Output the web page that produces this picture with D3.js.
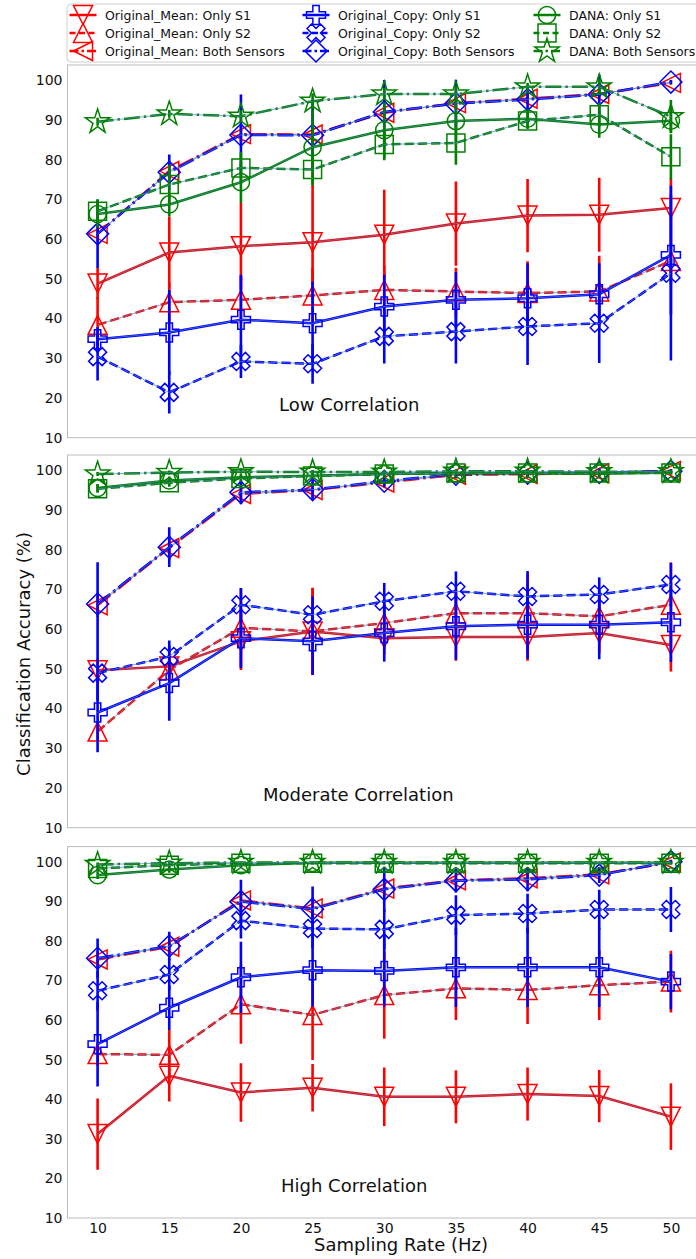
<!DOCTYPE html>
<html>
<head>
<meta charset="utf-8">
<script src="https://cdn.jsdelivr.net/npm/d3@7"></script>
<style>
  body { margin: 0; background: #fff; }
  svg { display: block; }
  text { font-family: "DejaVu Sans", sans-serif; fill: #111; }
</style>
</head>
<body>
<svg id="chart" width="696" height="1259"></svg>
<script>
// ---- data -----------------------------------------------------------------
const rates = [10, 15, 20, 25, 30, 35, 40, 45, 50];
const yTicks = [10, 20, 30, 40, 50, 60, 70, 80, 90, 100];
const seriesLabels = [
  "Original_Mean: Only S1", "Original_Mean: Only S2", "Original_Mean: Both Sensors",
  "Original_Copy: Only S1", "Original_Copy: Only S2", "Original_Copy: Both Sensors",
  "DANA: Only S1", "DANA: Only S2", "DANA: Both Sensors"
];
const panelTitles = ["Low Correlation", "Moderate Correlation", "High Correlation"];

// mean accuracy (%) per series, rows follow seriesLabels
const lowAcc = [
  [48.8, 56.6, 58.2, 59.2, 61.1, 63.9, 65.9, 66.1, 67.8],
  [38.4, 44.1, 44.7, 45.8, 47.2, 46.8, 46.4, 46.8, 54.5],
  [61.3, 77.1, 86.4, 86.3, 91.8, 94.2, 95.3, 96.5, 99.3],
  [34.8, 36.5, 39.7, 38.8, 43.0, 44.7, 45.1, 46.1, 56.0],
  [30.4, 21.4, 29.2, 28.6, 35.5, 36.7, 38.0, 38.8, 51.4],
  [61.3, 76.8, 86.2, 86.1, 92.0, 94.1, 95.1, 96.4, 99.5],
  [66.3, 68.7, 74.3, 83.1, 87.4, 89.7, 90.3, 88.8, 89.8],
  [67.0, 73.7, 77.9, 77.5, 83.8, 84.2, 89.7, 91.3, 80.7],
  [89.5, 91.5, 90.9, 94.7, 96.5, 96.5, 98.3, 98.3, 90.8]
];
// standard deviation per point
const lowErr = [
  [4.0, 9.1, 10.9, 14.5, 11.3, 10.6, 9.2, 9.3, 7.5],
  [7.0, 5.0, 6.0, 7.0, 6.0, 6.0, 8.0, 9.0, 6.0],
  [2.0, 2.0, 2.0, 2.0, 1.5, 1.5, 1.0, 1.0, 0.5],
  [3.0, 10.7, 11.3, 10.5, 8.0, 7.0, 8.8, 7.8, 15.0],
  [6.0, 5.3, 4.2, 5.0, 6.8, 8.0, 9.7, 10.0, 22.0],
  [8.6, 4.5, 10.2, 9.0, 8.0, 6.0, 3.0, 5.0, 0.5],
  [3.5, 3.0, 5.2, 9.4, 7.0, 6.0, 2.0, 3.3, 3.0],
  [3.0, 5.0, 4.0, 4.0, 4.0, 5.5, 2.0, 3.0, 5.7],
  [1.0, 1.0, 1.5, 2.0, 1.5, 2.0, 1.0, 2.0, 4.2]
];

const moderateAcc = [
  [49.6, 50.6, 56.9, 59.4, 57.7, 58.0, 58.0, 59.0, 56.0],
  [34.2, 49.7, 60.3, 59.4, 61.5, 64.0, 64.0, 63.2, 66.1],
  [66.0, 80.4, 94.0, 95.0, 96.9, 98.8, 99.0, 99.2, 99.8],
  [39.0, 46.4, 57.7, 56.9, 59.0, 60.7, 61.1, 61.1, 61.7],
  [48.9, 53.1, 66.1, 63.6, 67.0, 69.5, 68.2, 68.7, 71.2],
  [66.3, 80.6, 94.4, 95.1, 97.2, 99.0, 99.2, 99.4, 99.7],
  [95.5, 97.4, 98.2, 98.6, 99.0, 99.2, 99.2, 99.1, 99.4],
  [95.3, 96.8, 97.9, 98.5, 99.0, 99.3, 99.3, 99.3, 99.3],
  [99.0, 99.4, 99.6, 99.5, 99.5, 99.7, 99.7, 99.6, 99.6]
];
const moderateErr = [
  [3.0, 3.0, 7.2, 10.9, 4.0, 6.0, 6.0, 5.0, 6.7],
  [2.0, 3.0, 10.0, 11.0, 5.0, 6.0, 10.0, 6.0, 10.7],
  [3.0, 3.0, 2.0, 2.0, 1.0, 1.0, 1.0, 1.0, 0.5],
  [10.0, 9.5, 7.5, 8.4, 7.2, 8.4, 8.6, 8.7, 10.0],
  [7.0, 4.0, 4.2, 4.6, 4.6, 5.0, 6.4, 4.3, 5.4],
  [10.5, 5.0, 3.0, 2.5, 1.5, 1.0, 1.0, 1.0, 0.5],
  [1.0, 1.0, 0.8, 0.6, 0.5, 0.5, 0.5, 0.5, 0.5],
  [1.0, 1.0, 0.8, 0.6, 0.5, 0.5, 0.5, 0.5, 0.5],
  [0.5, 0.5, 0.5, 0.5, 0.5, 0.5, 0.5, 0.5, 0.5]
];

const highAcc = [
  [31.2, 45.9, 41.7, 42.9, 40.6, 40.6, 41.3, 40.8, 35.6],
  [51.4, 51.2, 64.0, 61.3, 66.3, 68.0, 67.6, 68.8, 69.7],
  [75.3, 78.5, 90.2, 88.2, 93.2, 95.3, 95.8, 96.8, 99.8],
  [53.9, 63.1, 70.8, 72.6, 72.4, 73.3, 73.3, 73.3, 69.7],
  [67.4, 71.5, 85.1, 83.1, 82.9, 86.5, 86.9, 87.9, 87.9],
  [75.6, 78.7, 89.9, 88.0, 93.0, 95.2, 95.5, 96.6, 100.0],
  [96.6, 98.0, 99.1, 99.7, 99.7, 99.7, 99.7, 99.7, 99.7],
  [98.3, 99.1, 99.6, 99.6, 99.6, 99.6, 99.6, 99.6, 99.6],
  [99.3, 99.6, 99.8, 99.8, 99.8, 99.8, 99.8, 99.8, 99.8]
];
const highErr = [
  [9.0, 6.5, 7.4, 6.0, 7.4, 6.7, 6.7, 6.6, 8.4],
  [3.0, 6.3, 10.0, 11.4, 11.0, 8.0, 8.6, 8.8, 7.8],
  [2.0, 2.0, 2.0, 2.0, 2.0, 1.0, 1.0, 1.0, 0.5],
  [10.7, 5.6, 9.0, 9.2, 9.0, 10.0, 10.0, 10.0, 7.0],
  [5.0, 4.0, 4.5, 5.0, 5.0, 5.0, 5.0, 5.0, 5.7],
  [5.0, 3.6, 5.5, 5.7, 5.7, 3.0, 3.0, 2.0, 0.5],
  [1.0, 0.8, 0.5, 0.3, 0.3, 0.3, 0.3, 0.3, 0.3],
  [0.8, 0.5, 0.3, 0.3, 0.3, 0.3, 0.3, 0.3, 0.3],
  [0.5, 0.4, 0.2, 0.2, 0.2, 0.2, 0.2, 0.2, 0.2]
];

// ---- styling --------------------------------------------------------------
const RED = "#ff0000", BLUE = "#0000ff", GREEN = "#008000";
const seriesStyle = [
  { color: RED,   marker: "triDown",  dash: "solid" },
  { color: RED,   marker: "triUp",    dash: "dashed" },
  { color: RED,   marker: "triLeft",  dash: "dashdot" },
  { color: BLUE,  marker: "plus",     dash: "solid" },
  { color: BLUE,  marker: "cross",    dash: "dashed" },
  { color: BLUE,  marker: "diamond",  dash: "dashdot" },
  { color: GREEN, marker: "circle",   dash: "solid" },
  { color: GREEN, marker: "square",   dash: "dashed" },
  { color: GREEN, marker: "star",     dash: "dashdot" }
];
const dashArray = { solid: null, dashed: "9.25,4", dashdot: "16,4,2.5,4" };

function poly(pts, k) {
  return "M" + pts.map(p => (p[0] * k).toFixed(2) + "," + (p[1] * k).toFixed(2)).join("L") + "Z";
}
function markerPath(type) {
  switch (type) {
    case "triDown": { const h = 9.5; return poly([[0, h], [-h, -h], [h, -h]], 1); }
    case "triUp":   { const h = 9.5; return poly([[0, -h], [-h, h], [h, h]], 1); }
    case "triLeft": { const h = 9.5; return poly([[-h, 0], [h, -h], [h, h]], 1); }
    case "plus":
      return poly([[-1, -3], [1, -3], [1, -1], [3, -1], [3, 1], [1, 1], [1, 3], [-1, 3],
                   [-1, 1], [-3, 1], [-3, -1], [-1, -1]], 19 / 6);
    case "cross":
      return poly([[-1, -2], [0, -1], [1, -2], [2, -1], [1, 0], [2, 1], [1, 2], [0, 1],
                   [-1, 2], [-2, 1], [-1, 0], [-2, -1]], 18 / 4);
    case "diamond": { const d = 11; return poly([[0, -d], [d, 0], [0, d], [-d, 0]], 1); }
    case "square":  { const h = 9; return poly([[-h, -h], [h, -h], [h, h], [-h, h]], 1); }
    case "circle": {
      const r = 8.6;
      return `M${r},0A${r},${r} 0 1,1 ${-r},0A${r},${r} 0 1,1 ${r},0Z`;
    }
    case "star": {
      const R = 12.8, r = R * 0.381966, pts = [];
      for (let i = 0; i < 10; i++) {
        const a = -Math.PI / 2 + i * Math.PI / 5, rr = i % 2 ? r : R;
        pts.push([rr * Math.cos(a), rr * Math.sin(a)]);
      }
      return poly(pts, 1);
    }
  }
}

// ---- layout ---------------------------------------------------------------
const svg = d3.select("#chart");
svg.append("rect").attr("width", 696).attr("height", 1259).attr("fill", "#fff");

const plotLeft = 67.5, plotRight = 701;
const x = d3.scaleLinear().domain([7.9, 52.1]).range([plotLeft, plotRight]);

const panels = [
  { title: panelTitles[0], acc: lowAcc, err: lowErr, top: 65, bottom: 437.7, tx: 279, ty: 411 },
  { title: panelTitles[1], acc: moderateAcc, err: moderateErr, top: 455, bottom: 827.7, tx: 263, ty: 801 },
  { title: panelTitles[2], acc: highAcc, err: highErr, top: 846.6, bottom: 1218, tx: 281, ty: 1192 }
];

const lineGen = d3.line().x(d => x(d.r)).y(d => d.py);

panels.forEach((p, pi) => {
  const y = d3.scaleLinear().domain([10, 103.8]).range([p.bottom, p.top]);
  const g = svg.append("g");

  svg.append("clipPath").attr("id", "clip" + pi)
    .append("rect")
    .attr("x", plotLeft).attr("y", p.top)
    .attr("width", plotRight - plotLeft).attr("height", p.bottom - p.top);

  // y axis labels
  const yAxis = g.append("g")
    .attr("transform", `translate(${plotLeft},0)`)
    .call(d3.axisLeft(y).tickValues(yTicks).tickSize(0).tickPadding(5));
  yAxis.select(".domain").remove();
  yAxis.selectAll("text").style("font-size", "14px").attr("fill", "#111")
    .style("font-family", '"DejaVu Sans", sans-serif');

  if (pi === panels.length - 1) {
    const xAxis = g.append("g")
      .attr("transform", `translate(0,${p.bottom})`)
      .call(d3.axisBottom(x).tickValues(rates).tickSize(0).tickPadding(5));
    xAxis.select(".domain").remove();
    xAxis.selectAll("text").style("font-size", "14px").attr("fill", "#111")
      .style("font-family", '"DejaVu Sans", sans-serif');
  }

  const marks = g.append("g").attr("clip-path", `url(#clip${pi})`);

  seriesStyle.forEach((s, si) => {
    const pts = rates.map((r, i) => ({
      r, v: p.acc[si][i], e: p.err[si][i], py: y(p.acc[si][i])
    }));
    const sg = marks.append("g");

    // error bars
    sg.selectAll("line.err").data(pts).join("line")
      .attr("class", "err")
      .attr("x1", d => x(d.r)).attr("x2", d => x(d.r))
      .attr("y1", d => y(d.v - d.e)).attr("y2", d => y(d.v + d.e))
      .attr("stroke", s.color).attr("stroke-width", 2.6);

    // connecting line
    sg.append("path").datum(pts)
      .attr("d", lineGen)
      .attr("fill", "none")
      .attr("stroke", s.color)
      .attr("stroke-width", 2.5)
      .attr("stroke-dasharray", dashArray[s.dash]);
    // thin overlay trace
    sg.append("path").datum(pts)
      .attr("d", lineGen)
      .attr("fill", "none")
      .attr("stroke", "#4f86c0")
      .attr("stroke-opacity", 0.7)
      .attr("stroke-width", 1);

    // markers
    const mp = markerPath(s.marker);
    sg.selectAll("path.mk").data(pts).join("path")
      .attr("class", "mk")
      .attr("d", mp)
      .attr("transform", d => `translate(${x(d.r)},${d.py})`)
      .attr("fill", "none")
      .attr("stroke", s.color)
      .attr("stroke-width", 1.5)
      .attr("stroke-linejoin", "miter");
  });

  // frame
  g.append("rect")
    .attr("x", plotLeft).attr("y", p.top)
    .attr("width", plotRight - plotLeft).attr("height", p.bottom - p.top)
    .attr("fill", "none").attr("stroke", "#bdbdbd").attr("stroke-width", 1);

  // panel caption
  g.append("text")
    .attr("x", p.tx).attr("y", p.ty)
    .style("font-size", "18px")
    .text(p.title);
});

// axis titles
svg.append("text")
  .attr("transform", "translate(23.5,654) rotate(-90)")
  .attr("text-anchor", "middle")
  .attr("dy", "0.35em")
  .style("font-size", "18px")
  .text("Classification Accuracy (%)");

svg.append("text")
  .attr("x", 401).attr("y", 1251)
  .attr("text-anchor", "middle")
  .style("font-size", "18px")
  .text("Sampling Rate (Hz)");

// ---- legend ---------------------------------------------------------------
const legend = svg.append("g");
legend.append("rect")
  .attr("x", 67).attr("y", 4).attr("width", 640).attr("height", 58)
  .attr("rx", 4)
  .attr("fill", "#fff").attr("stroke", "#d0d0d0").attr("stroke-width", 1);

const legendCols = [83, 316, 547];
const legendRows = [15, 33, 51];
seriesLabels.forEach((label, i) => {
  const s = seriesStyle[i];
  const cx = legendCols[Math.floor(i / 3)], cy = legendRows[i % 3];
  const item = legend.append("g");
  item.append("line")
    .attr("x1", cx - 13.5).attr("x2", cx + 13.5).attr("y1", cy).attr("y2", cy)
    .attr("stroke", s.color).attr("stroke-width", 2.5)
    .attr("stroke-dasharray", s.dash === "solid" ? null :
          (s.dash === "dashed" ? "6,3.5" : "9,3,2.5,3"));
  item.append("path")
    .attr("d", markerPath(s.marker))
    .attr("transform", `translate(${cx},${cy})`)
    .attr("fill", "none").attr("stroke", s.color).attr("stroke-width", 1.5);
  item.append("text")
    .attr("x", cx + 22).attr("y", cy + 4.5)
    .style("font-size", "12.5px")
    .text(label);
});
</script>
</body>
</html>
